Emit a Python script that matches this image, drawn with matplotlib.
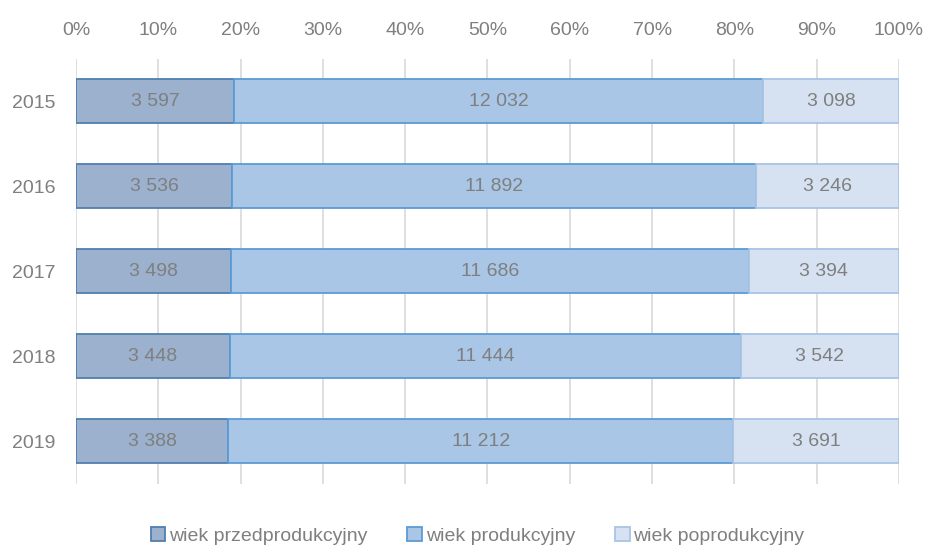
import numpy as np
import matplotlib.pyplot as plt
from matplotlib.ticker import PercentFormatter

plt.rcParams['font.family'] = ['Liberation Sans Narrow', 'Liberation Sans', 'DejaVu Sans']

lata = ["2015", "2016", "2017", "2018", "2019"]
przedprodukcyjny = [3597, 3536, 3498, 3448, 3388]
produkcyjny = [12032, 11892, 11686, 11444, 11212]
poprodukcyjny = [3098, 3246, 3394, 3542, 3691]

serie = [
    ("wiek przedprodukcyjny", przedprodukcyjny, "#9bb1cd", "#4f7fb0"),
    ("wiek produkcyjny", produkcyjny, "#a9c6e6", "#5b9bd5"),
    ("wiek poprodukcyjny", poprodukcyjny, "#d6e2f1", "#a8c4e4"),
]

def fmt(v):
    return f"{v:,}".replace(",", " ")

fig = plt.figure(figsize=(9.26, 5.47), dpi=100)
ax = fig.add_axes([0.0821, 0.116, 0.8887, 0.777])

suma = np.array(przedprodukcyjny) + np.array(produkcyjny) + np.array(poprodukcyjny)
y = np.arange(len(lata))
lewo = np.zeros(len(lata))
for nazwa, wart, kolor, krawedz in serie:
    udzial = np.array(wart) / suma * 100
    ax.barh(y, udzial, left=lewo, height=0.52, color=kolor, edgecolor=krawedz,
            linewidth=1.3, label=nazwa, zorder=3)
    for i in range(len(lata)):
        ax.text(lewo[i] + udzial[i] / 2, y[i], fmt(wart[i]), ha="center", va="center",
                fontsize=14, color="#7f7f7f", zorder=4)
    lewo += udzial

ax.set_xlim(0, 100)
ax.set_ylim(len(lata) - 0.5, -0.5)
ax.set_yticks(y)
ax.set_yticklabels(lata)
ax.set_xticks(np.arange(0, 101, 10))
ax.xaxis.set_major_formatter(PercentFormatter(decimals=0))
ax.xaxis.tick_top()
ax.tick_params(axis="both", length=0, labelsize=14, colors="#7f7f7f")
ax.tick_params(axis="x", pad=14)
ax.tick_params(axis="y", pad=15)
ax.grid(axis="x", color="#d9d9d9", linewidth=1.2, zorder=0)
for s in ax.spines.values():
    s.set_visible(False)

ax.legend(loc="lower center", bbox_to_anchor=(0.488, -0.185), ncol=3, frameon=False,
          fontsize=14, labelcolor="#7f7f7f", handlelength=0.75, handleheight=0.75,
          handletextpad=0.2, columnspacing=2.05)

fig.savefig("out.png", dpi=100)
